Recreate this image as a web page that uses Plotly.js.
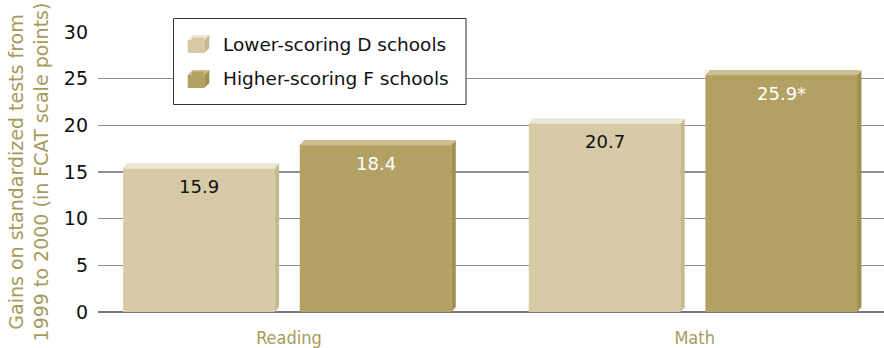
<!DOCTYPE html>
<html>
<head>
<meta charset="utf-8">
<script src="https://cdn.plot.ly/plotly-3.0.1.min.js"></script>
<style>html,body{margin:0;padding:0;background:#fff;}#chart{width:884px;height:348px;}</style>
</head>
<body>
<div id="chart"></div>
<script>
// ---- data ----
const categories = ['Reading', 'Math'];
const seriesNames = ['Lower-scoring D schools', 'Higher-scoring F schools'];
const dValues = [15.9, 20.7];
const fValues = [18.4, 25.9];
const dLabels = ['15.9', '20.7'];
const fLabels = ['18.4', '25.9*'];
const yTickVals = [0, 5, 10, 15, 20, 25, 30];
const yTitle = 'Gains on standardized tests from<br>1999 to 2000 (in FCAT scale points)';

// ---- style / geometry ----
const FONT = 'DejaVu Sans, sans-serif';
const FONT_COND = 'DejaVu Sans Condensed, DejaVu Sans, sans-serif';
const OLIVE = '#a69a5c';
const BAR_W = 0.3736;
const OFFSETS = [-0.409, 0.0266];
const DEPTH_X = 0.011;   // 3D depth in x-axis units
const DEPTH_Y = 0.54;    // 3D depth in y-axis units
const FACE = [
  {front: '#d6caa7', top: '#ece6d4', side: '#c7ba8e', text: '#111111'},
  {front: '#b3a063', top: '#cdbf92', side: '#a38f4f', text: '#ffffff'}
];
const series = [dValues, fValues];
const labels = [dLabels, fLabels];
const xPos = categories.map((c, i) => i);

// plot-area pixel frame (for legend decoration in paper coords)
const M = {l: 98, r: 0, t: 32, b: 36};
const W = 884, H = 348;
const PW = W - M.l - M.r, PH = H - M.t - M.b;
const px = x => (x - M.l) / PW;
const py = y => (H - M.b - y) / PH;

const traces = series.map((vals, s) => ({
  type: 'bar',
  name: seriesNames[s],
  x: xPos,
  y: vals,
  width: BAR_W,
  offset: OFFSETS[s],
  marker: {color: FACE[s].front, line: {width: 0}},
  hoverinfo: 'skip',
  legendgroup: 'g' + s
}));

const shapes = [];
const annotations = [];
series.forEach((vals, s) => {
  vals.forEach((v, i) => {
    const x0 = xPos[i] + OFFSETS[s];
    const x1 = x0 + BAR_W;
    const vf = v - DEPTH_Y;
    shapes.push({type: 'path', xref: 'x', yref: 'y', layer: 'above',
      path: `M${x0},${vf} L${x0},${v} L${x0 + DEPTH_X},${v} Z`,
      fillcolor: '#ffffff', line: {width: 0}});
    shapes.push({type: 'path', xref: 'x', yref: 'y', layer: 'above',
      path: `M${x0},${vf} L${x0 + DEPTH_X},${v} L${x1 + DEPTH_X},${v} L${x1},${vf} Z`,
      fillcolor: FACE[s].top, line: {width: 0}});
    shapes.push({type: 'path', xref: 'x', yref: 'y', layer: 'above',
      path: `M${x1},0 L${x1},${vf} L${x1 + DEPTH_X},${v} L${x1 + DEPTH_X},${DEPTH_Y} Z`,
      fillcolor: FACE[s].side, line: {width: 0}});
    annotations.push({x: x0 + BAR_W / 2, y: v, xref: 'x', yref: 'y',
      text: labels[s][i], showarrow: false, yanchor: 'middle', yshift: -23,
      font: {family: FONT, size: 18, color: FACE[s].text}});
  });
});

// legend frame
shapes.push({type: 'rect', xref: 'paper', yref: 'paper', layer: 'above',
  x0: px(173.5), x1: px(466), y0: py(104.5), y1: py(18.5),
  fillcolor: '#ffffff', line: {color: '#333333', width: 1}});
// legend cube icons
[46.5, 81.5].forEach((cy, s) => {
  const fx0 = 187.7, fx1 = 204.3, fy0 = cy - 6.5, fy1 = cy + 6.5, dx = 5, dy = 5;
  shapes.push({type: 'path', xref: 'paper', yref: 'paper', layer: 'above',
    path: `M${px(fx0)},${py(fy0)} L${px(fx1)},${py(fy0)} L${px(fx1)},${py(fy1)} L${px(fx0)},${py(fy1)} Z`,
    fillcolor: FACE[s].front, line: {width: 0}});
  shapes.push({type: 'path', xref: 'paper', yref: 'paper', layer: 'above',
    path: `M${px(fx0)},${py(fy0)} L${px(fx0 + dx)},${py(fy0 - dy)} L${px(fx1 + dx)},${py(fy0 - dy)} L${px(fx1)},${py(fy0)} Z`,
    fillcolor: FACE[s].top, line: {width: 0}});
  shapes.push({type: 'path', xref: 'paper', yref: 'paper', layer: 'above',
    path: `M${px(fx1)},${py(fy0)} L${px(fx1 + dx)},${py(fy0 - dy)} L${px(fx1 + dx)},${py(fy1 - dy)} L${px(fx1)},${py(fy1)} Z`,
    fillcolor: FACE[s].side, line: {width: 0}});
});

const layout = {
  width: W, height: H,
  margin: M,
  paper_bgcolor: '#ffffff', plot_bgcolor: '#ffffff',
  font: {family: FONT, size: 17, color: '#111111'},
  barmode: 'overlay',
  xaxis: {
    range: [-0.4708, 1.4668], tickvals: xPos, ticktext: categories,
    showgrid: false, zeroline: false, showline: false, ticks: '',
    ticklabelstandoff: 13,
    tickfont: {family: FONT_COND, size: 18, color: OLIVE}, fixedrange: true
  },
  yaxis: {
    range: [0, 30], tickvals: yTickVals, showgrid: true, gridcolor: '#8f8f8f', gridwidth: 1.5,
    zeroline: true, zerolinecolor: '#777777', zerolinewidth: 2,
    ticks: '', ticklabelstandoff: 9,
    tickfont: {family: FONT, size: 19, color: '#111111'},
    title: {text: yTitle, font: {family: FONT, size: 19, color: OLIVE}, standoff: 10},
    fixedrange: true
  },
  showlegend: true,
  legend: {
    x: px(173), y: py(25), xanchor: 'left', yanchor: 'top',
    bgcolor: 'rgba(0,0,0,0)', borderwidth: 0,
    font: {family: FONT, size: 18.5, color: '#111111'},
    tracegroupgap: 7, itemwidth: 40, traceorder: 'grouped'
  },
  shapes: shapes,
  annotations: annotations
};

Plotly.newPlot('chart', traces, layout, {displayModeBar: false, staticPlot: true});
</script>
</body>
</html>
